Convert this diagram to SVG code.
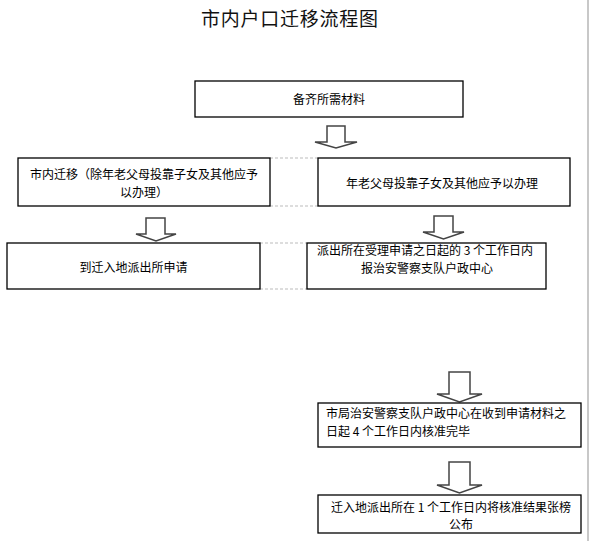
<svg xmlns="http://www.w3.org/2000/svg" width="591" height="541" viewBox="0 0 591 541">
<style>
text{font-family:"Noto Sans CJK SC","Noto Sans",sans-serif;font-size:12px;fill:#000}
.title{font-size:19px;fill:#111}
.box{fill:#fff;stroke:#000;stroke-width:1.3}
.arr{fill:#fff;stroke:#444;stroke-width:1.5;stroke-linejoin:miter}
.dash{stroke:#bbb;stroke-width:1;stroke-dasharray:3 2;fill:none}
.mid{text-anchor:middle}
</style>
<rect x="0" y="0" width="591" height="541" fill="#fff"/>
<line x1="588" y1="0" x2="588" y2="541" stroke="#c8c8c8" stroke-width="2"/>
<text class="title" x="201" y="25.5" textLength="177" lengthAdjust="spacing">市内户口迁移流程图</text>
<g id="connectors">
<line class="dash" x1="270" y1="158" x2="318" y2="158"/>
<line class="dash" x1="270" y1="206" x2="318" y2="206"/>
<line class="dash" x1="260" y1="243" x2="307" y2="243"/>
<line class="dash" x1="260" y1="289" x2="307" y2="289"/>
<polygon class="arr" points="327,126 345,126 345,142 357,142 336,148 315,142 327,142"/>
<polygon class="arr" points="146,218 165,218 165,234 176,234 156,241 136,234 146,234"/>
<polygon class="arr" points="434,216 453,216 453,232 464,232 443.5,239 423,232 434,232"/>
<polygon class="arr" points="449,372 470,372 470,394 482,394 459.5,402 437,394 449,394"/>
<polygon class="arr" points="449,462 470,462 470,485 482,485 459.5,493 437,485 449,485"/>
</g>
<g id="n1">
<rect class="box" x="195" y="81" width="268" height="36"/>
<text class="mid" x="329" y="103.6">备齐所需材料</text>
</g>
<g id="n2">
<rect class="box" x="18" y="158" width="252" height="48"/>
<text class="mid" x="144" y="178.6">市内迁移（除年老父母投靠子女及其他应予</text>
<text class="mid" x="144" y="196.6">以办理）</text>
</g>
<g id="n3">
<rect class="box" x="318" y="158" width="252" height="48"/>
<text class="mid" x="442" y="187.6">年老父母投靠子女及其他应予以办理</text>
</g>
<g id="n4">
<rect class="box" x="7" y="243" width="253" height="46"/>
<text class="mid" x="133.5" y="271.6">到迁入地派出所申请</text>
</g>
<g id="n5">
<rect class="box" x="307" y="243" width="239" height="46"/>
<text x="317" y="254.6">派出所在受理申请之日起的 3 个工作日内</text>
<text x="361" y="272.6">报治安警察支队户政中心</text>
</g>
<g id="n6">
<rect class="box" x="318" y="403" width="263" height="44"/>
<text x="326" y="417.6">市局治安警察支队户政中心在收到申请材料之</text>
<text x="326" y="435.6">日起 4 个工作日内核准完毕</text>
</g>
<g id="n7">
<rect class="box" x="318" y="495" width="263" height="38"/>
<text x="331" y="511.5">迁入地派出所在 1 个工作日内将核准结果张榜</text>
<text class="mid" x="461" y="528.5">公布</text>
</g>
</svg>
